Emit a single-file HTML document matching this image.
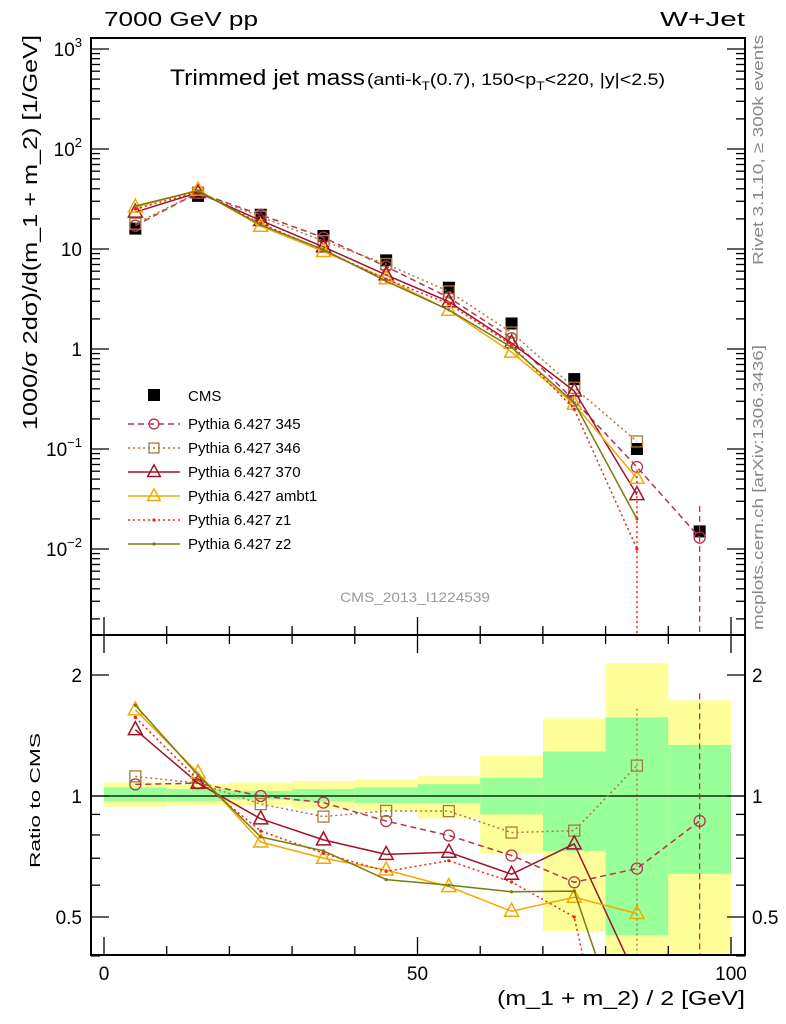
<!DOCTYPE html>
<html><head><meta charset="utf-8"><style>
body{margin:0;background:#fff;overflow:hidden}
svg{font-family:"Liberation Sans",sans-serif;display:block}
</style></head><body>
<svg id="c" width="786" height="1024" viewBox="0 0 786 1024" xmlns="http://www.w3.org/2000/svg">
<text x="104" y="26" font-size="20" textLength="154" lengthAdjust="spacingAndGlyphs">7000 GeV pp</text>
<text x="660" y="26" font-size="20" textLength="85" lengthAdjust="spacingAndGlyphs">W+Jet</text>
<text x="170" y="85" font-size="22" textLength="195" lengthAdjust="spacingAndGlyphs">Trimmed jet mass</text>
<text x="367" y="85" font-size="17" textLength="298" lengthAdjust="spacingAndGlyphs">(anti-k<tspan font-size="12" dy="5">T</tspan><tspan dy="-5">(0.7), 150&lt;p</tspan><tspan font-size="12" dy="5">T</tspan><tspan dy="-5">&lt;220, |y|&lt;2.5)</tspan></text>
<text x="340" y="602" font-size="14" fill="#999" textLength="150" lengthAdjust="spacingAndGlyphs">CMS_2013_I1224539</text>
<text transform="translate(763,265) rotate(-90)" font-size="15" fill="#888" textLength="230" lengthAdjust="spacingAndGlyphs">Rivet 3.1.10, ≥ 300k events</text>
<text transform="translate(763,630) rotate(-90)" font-size="15" fill="#888" textLength="285" lengthAdjust="spacingAndGlyphs">mcplots.cern.ch [arXiv:1306.3436]</text>
<text transform="translate(37,430) rotate(-90)" font-size="20" textLength="395" lengthAdjust="spacingAndGlyphs">1000/σ 2dσ)/d(m_1 + m_2) [1/GeV]</text>
<text transform="translate(40,868) rotate(-90)" font-size="15" textLength="135" lengthAdjust="spacingAndGlyphs">Ratio to CMS</text>
<text x="497" y="1005" font-size="20" textLength="248" lengthAdjust="spacingAndGlyphs">(m_1 + m_2) / 2 [GeV]</text>
<g id="g"></g>
</svg>
<script>
const xCenters=[5,15,25,35,45,55,65,75,85,95];
const cms=[16,34,22,13.5,7.7,4.1,1.8,0.5,0.1,0.015];
const p345=[17.1,36.6,22,13.0,6.67,3.27,1.28,0.305,0.066,0.013];
const p346=[17.9,36.6,21.0,12.0,7.07,3.76,1.46,0.41,0.119,null];
const p370=[23.4,36.6,19.3,10.5,5.51,2.97,1.15,0.38,0.035,null];
const pambt1=[26.2,38.8,16.9,9.45,5.04,2.44,0.93,0.28,0.051,null];
const pz1=[25.1,37.3,18.0,9.72,5.0,2.83,1.10,0.25,0.01,null];
const pz2=[26.9,38.3,17.4,9.86,4.77,2.46,1.04,0.29,0.02,null];
const bandYellowLo=[0.94,0.95,0.95,0.93,0.92,0.88,0.72,0.46,0.3,0.3];
const bandYellowHi=[1.08,1.07,1.08,1.09,1.10,1.12,1.26,1.56,2.14,1.73];
const bandGreenLo=[0.97,0.97,0.98,0.97,0.96,0.96,0.9,0.73,0.45,0.64];
const bandGreenHi=[1.05,1.04,1.03,1.04,1.05,1.07,1.11,1.29,1.57,1.34];
const NS="http://www.w3.org/2000/svg";
const g=document.getElementById('g');
const L=91,R=745,T=38,MB=635,RB=955;
const xs=v=>104+v*6.27;
const ys=v=>349-100*Math.log10(v);
const rs=v=>796-121*Math.log2(v);
function el(t,a,p){const e=document.createElementNS(NS,t);for(const k in a)e.setAttribute(k,a[k]);(p||g).appendChild(e);return e;}
const defs=el('defs',{});
const c1=el('clipPath',{id:'cm'},defs);el('rect',{x:L,y:T,width:R-L,height:MB-T},c1);
const c2=el('clipPath',{id:'cr'},defs);el('rect',{x:L,y:MB,width:R-L,height:RB-MB},c2);
const gm=el('g',{'clip-path':'url(#cm)'});
const gr=el('g',{'clip-path':'url(#cr)'});
for(let i=0;i<10;i++){
 const x0=xs(xCenters[i]-5),w=xs(xCenters[i]+5)-x0;
 const by=el('rect',{x:x0,y:rs(bandYellowHi[i]),width:w,height:rs(bandYellowLo[i])-rs(bandYellowHi[i]),fill:'#ffff99'},gr);
 
 
 const bg=el('rect',{x:x0,y:rs(bandGreenHi[i]),width:w,height:rs(bandGreenLo[i])-rs(bandGreenHi[i]),fill:'#99ff99'},gr);
 
 
}
el('line',{x1:L,x2:R,y1:rs(1),y2:rs(1),stroke:'#000','stroke-width':1.3},gr);
const series=[
 {name:'Pythia 6.427 345',d:p345,c:'#b8334d',dash:'6,4',m:'circle'},
 {name:'Pythia 6.427 346',d:p346,c:'#a8783c',dash:'2,3',m:'square'},
 {name:'Pythia 6.427 370',d:p370,c:'#a0132a',dash:'',m:'tri'},
 {name:'Pythia 6.427 ambt1',d:pambt1,c:'#f5a800',dash:'',m:'tri'},
 {name:'Pythia 6.427 z1',d:pz1,c:'#ee2211',dash:'2,3',m:'dot'},
 {name:'Pythia 6.427 z2',d:pz2,c:'#7a7a10',dash:'',m:'dot'}];
function marker(m,x,y,c,p,s){
 s=s||1;
 if(m==='circle')return el('circle',{cx:x,cy:y,r:5.5*s,fill:'none',stroke:c,'stroke-width':1.3},p);
 if(m==='square')return el('rect',{x:x-5.5*s,y:y-5.5*s,width:11*s,height:11*s,fill:'none',stroke:c,'stroke-width':1.3},p);
 if(m==='tri')return el('path',{d:`M${x},${y-8*s}L${x+7*s},${y+5*s}L${x-7*s},${y+5*s}Z`,fill:'none',stroke:c,'stroke-width':1.5},p);
 return el('circle',{cx:x,cy:y,r:1.6,fill:c},p);
}
cms.forEach((v,i)=>{const m=el('rect',{x:xs(xCenters[i])-6,y:ys(v)-6,width:12,height:12,fill:'#000'},gm);
 
 });
series.forEach((s,k)=>{
 const pm=[],pr=[];
 s.d.forEach((v,i)=>{if(v==null)return;pm.push([xs(xCenters[i]),ys(v)]);pr.push([xs(xCenters[i]),rs(v/cms[i])]);});
 const lm=el('polyline',{points:pm.map(p=>p.join(',')).join(' '),fill:'none',stroke:s.c,'stroke-width':1.5,'stroke-dasharray':s.dash},gm);
 
 
 const lr=el('polyline',{points:pr.map(p=>p.join(',')).join(' '),fill:'none',stroke:s.c,'stroke-width':1.5,'stroke-dasharray':s.dash},gr);
 
 
 pm.forEach(p=>{const mk=marker(s.m,p[0],p[1],s.c,gm);});
 pr.forEach(p=>{const mk=marker(s.m,p[0],p[1],s.c,gr);});
 const ly=424+k*24;
 el('line',{x1:128,x2:180,y1:ly,y2:ly,stroke:s.c,'stroke-width':1.5,'stroke-dasharray':s.dash});
 marker(s.m,154,ly,s.c,g,0.9);
 const t=el('text',{x:188,y:ly+5,'font-size':15});t.textContent=s.name;
 
 
});
el('line',{x1:xs(85),x2:xs(85),y1:ys(0.06),y2:MB,stroke:'#ee2211','stroke-dasharray':'2,3','stroke-width':1.5},gm);
el('line',{x1:xs(95),x2:xs(95),y1:ys(0.027),y2:MB,stroke:'#b8334d','stroke-dasharray':'6,4','stroke-width':1.3},gm);
el('line',{x1:xs(95),x2:xs(95),y1:rs(1.8),y2:RB,stroke:'#b8334d','stroke-dasharray':'6,4','stroke-width':1.3},gr);
el('line',{x1:xs(85),x2:xs(85),y1:rs(1.65),y2:RB,stroke:'#a8783c','stroke-dasharray':'2,3','stroke-width':1.3},gr);
el('rect',{x:148,y:389,width:12,height:12,fill:'#000'});
const ct=el('text',{x:188,y:401,'font-size':15});ct.textContent='CMS';


el('rect',{x:L,y:T,width:R-L,height:MB-T,fill:'none',stroke:'#000','stroke-width':2});
el('rect',{x:L,y:MB,width:R-L,height:RB-MB,fill:'none',stroke:'#000','stroke-width':2});
for(let e=-3;e<=3;e++)for(let m=1;m<10;m++){const v=m*Math.pow(10,e);const y=ys(v);if(y<T||y>MB)continue;
 const len=m===1?18:9;el('line',{x1:L,x2:L+len,y1:y,y2:y,stroke:'#000','stroke-width':1.3});el('line',{x1:R,x2:R-len,y1:y,y2:y,stroke:'#000','stroke-width':1.3});}
const yl=[['10','3'],['10','2'],['10',''],['1',''],['10','−1'],['10','−2']];
const yv=[1000,100,10,1,0.1,0.01];
yv.forEach((v,i)=>{const t=el('text',{x:82,y:ys(v)+7,'font-size':19,'text-anchor':'end'});
 t.innerHTML=yl[i][1]?`${yl[i][0]}<tspan font-size="13" dy="-9">${yl[i][1]}</tspan>`:yl[i][0];
 
 });
[0.4,0.5,0.6,0.7,0.8,0.9,1,2].forEach(v=>{const y=rs(v);const len=(v===0.5||v===1||v===2)?18:9;
 el('line',{x1:L,x2:L+len,y1:y,y2:y,stroke:'#000','stroke-width':1.3});el('line',{x1:R,x2:R-len,y1:y,y2:y,stroke:'#000','stroke-width':1.3});});
[[2,'2'],[1,'1'],[0.5,'0.5']].forEach(([v,s])=>{
 const a=el('text',{x:82,y:rs(v)+7,'font-size':19,'text-anchor':'end'});a.textContent=s;
 const b=el('text',{x:752,y:rs(v)+7,'font-size':19});b.textContent=s;});
for(let v=0;v<=100;v+=10){const x=xs(v);const len=v%50===0?18:9;
 el('line',{x1:x,x2:x,y1:MB,y2:MB-len,stroke:'#000','stroke-width':1.3});
 el('line',{x1:x,x2:x,y1:RB,y2:RB-len,stroke:'#000','stroke-width':1.3});
 el('line',{x1:x,x2:x,y1:MB,y2:MB+len,stroke:'#000','stroke-width':1.3});}
[0,50,100].forEach(v=>{const t=el('text',{x:xs(v),y:980,'font-size':19,'text-anchor':'middle'});t.textContent=v;
 
 });
</script>
</body></html>
